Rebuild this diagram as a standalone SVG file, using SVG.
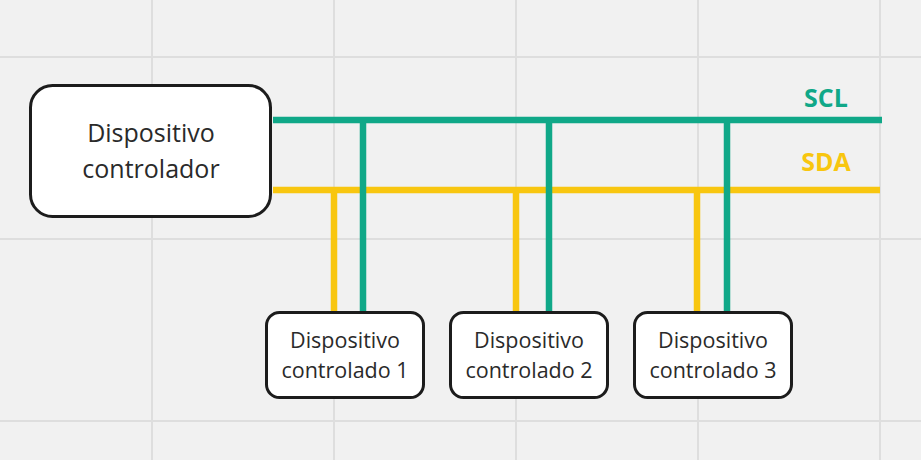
<svg xmlns="http://www.w3.org/2000/svg" width="921" height="460" viewBox="0 0 921 460">
<style>
.grid{stroke:#dedede;stroke-width:2}
.box{fill:#ffffff;stroke:#1c1c1c;stroke-width:3}
.t{font-family:"Open Sans","Noto Sans",sans-serif;fill:#2a2a2a;text-anchor:middle}
.scl{stroke:#10a888;stroke-width:6.5;fill:none}
.sda{stroke:#f8c60f;stroke-width:6.5;fill:none}
.lbl{font-family:"Open Sans","Noto Sans",sans-serif;font-weight:bold;font-size:25px;text-anchor:middle}
</style>
<rect width="921" height="460" fill="#f1f1f1"/>
<g id="grid">
<line class="grid" x1="152" y1="0" x2="152" y2="460"/>
<line class="grid" x1="334" y1="0" x2="334" y2="460"/>
<line class="grid" x1="516" y1="0" x2="516" y2="460"/>
<line class="grid" x1="698" y1="0" x2="698" y2="460"/>
<line class="grid" x1="880" y1="0" x2="880" y2="460"/>
<line class="grid" x1="0" y1="57" x2="921" y2="57"/>
<line class="grid" x1="0" y1="239" x2="921" y2="239"/>
<line class="grid" x1="0" y1="421" x2="921" y2="421"/>
</g>
<g id="connectors">
<line class="sda" x1="273" y1="190" x2="880" y2="190"/>
<line class="sda" x1="334" y1="190" x2="334" y2="313"/>
<line class="sda" x1="516" y1="190" x2="516" y2="313"/>
<line class="sda" x1="697" y1="190" x2="697" y2="313"/>
<line class="scl" x1="273" y1="120" x2="882" y2="120"/>
<line class="scl" x1="363" y1="120" x2="363" y2="313"/>
<line class="scl" x1="549" y1="120" x2="549" y2="313"/>
<line class="scl" x1="727" y1="120" x2="727" y2="313"/>
<text class="lbl" x="826" y="107" fill="#10a888">SCL</text>
<text class="lbl" x="826" y="171" fill="#f8c60f">SDA</text>
</g>
<g id="controlador">
<rect class="box" x="30.5" y="85.5" width="240" height="131" rx="22"/>
<text class="t" x="151" y="142" font-size="25">Dispositivo</text>
<text class="t" x="151" y="178" font-size="25">controlador</text>
</g>
<g id="controlado1">
<rect class="box" x="266.5" y="312.5" width="157" height="85" rx="13"/>
<text class="t" x="345" y="348" font-size="21.5">Dispositivo</text>
<text class="t" x="345" y="378" font-size="21.5">controlado 1</text>
</g>
<g id="controlado2">
<rect class="box" x="450.5" y="312.5" width="157" height="85" rx="13"/>
<text class="t" x="529" y="348" font-size="21.5">Dispositivo</text>
<text class="t" x="529" y="378" font-size="21.5">controlado 2</text>
</g>
<g id="controlado3">
<rect class="box" x="634.5" y="312.5" width="157" height="85" rx="13"/>
<text class="t" x="713" y="348" font-size="21.5">Dispositivo</text>
<text class="t" x="713" y="378" font-size="21.5">controlado 3</text>
</g>
</svg>
